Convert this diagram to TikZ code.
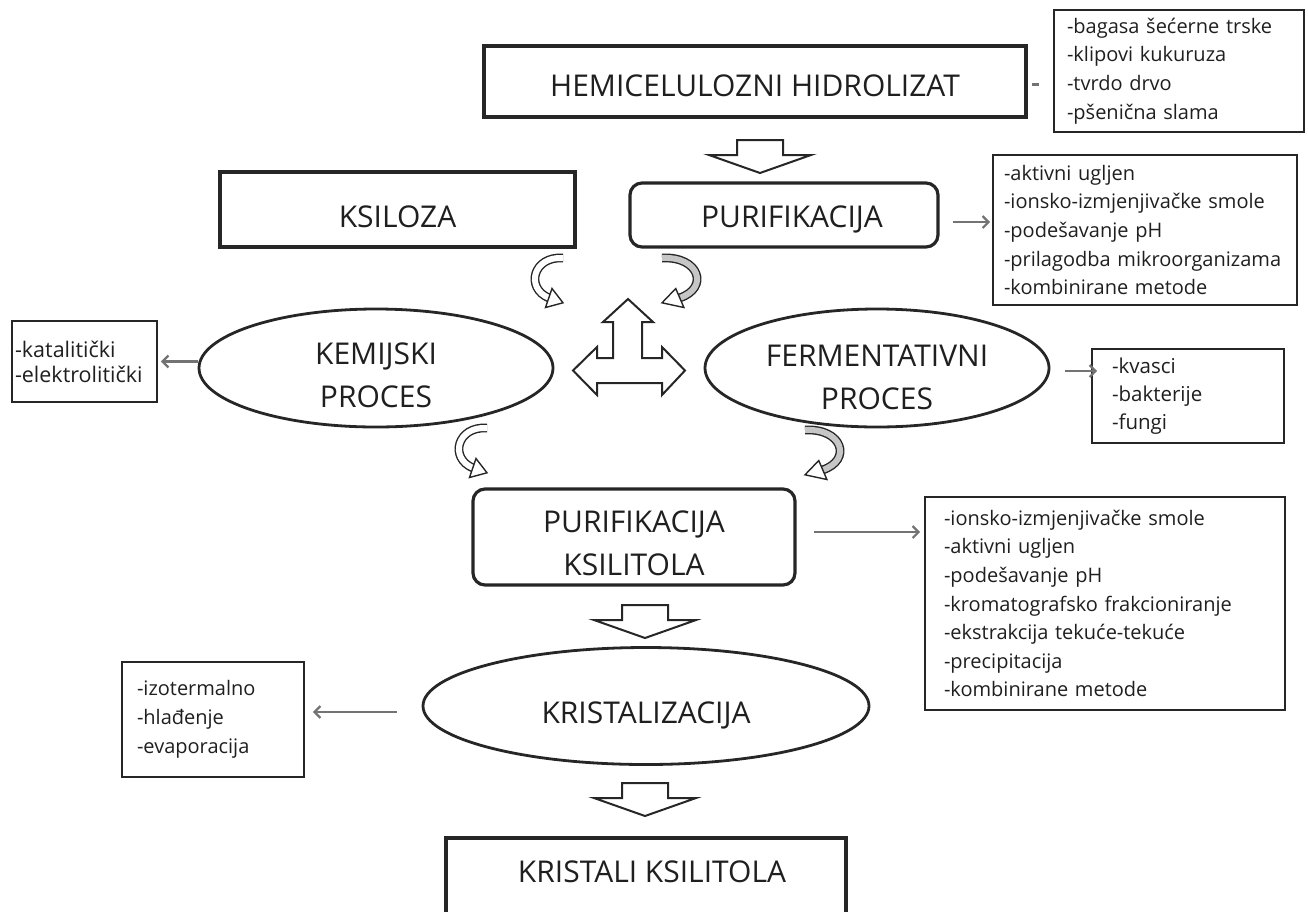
\documentclass[tikz,border=0pt]{standalone}
\usepackage{fontspec}
\setmainfont{Open Sans}
\usetikzlibrary{shapes.geometric, arrows.meta}

\begin{document}
\begin{tikzpicture}
[x=1pt, y=-1pt, >={Straight Barb[length=6pt, width=12pt]},
                    lbl/.style={font=\fontsize{30}{43.5}\selectfont, text=black!88},
                    mainbox/.style={lbl, draw=black!85, line width=3.2pt, inner sep=0pt, text depth=0pt},
                    roundbox/.style={mainbox, rounded corners=12pt, align=center},
                    oval/.style={lbl, ellipse, draw=black!85, line width=2.8pt, inner sep=0pt, text depth=0pt, align=center},
                    listbox/.style={draw=black!85, line width=1.8pt, align=left, inner ysep=0pt,
                                    font=\fontsize{20}{28.6}\selectfont, text=black!88},
                    grayline/.style={draw=black!55, line width=2.2pt},
                    grayarrow/.style={->, grayline},
                    blockarrow/.style={draw=black!85, line width=2pt, fill=white, line join=miter},
                    ribbon/.style={draw=black!85, line width=1.4pt, double=white, double distance=6pt},
                    curlhead/.style={draw=black!85, line width=1.4pt, fill=white},
                    curl/.pic={
                      \draw[ribbon] (0,0) .. controls (-30,-2) and (-38,30) .. (-14,40);
                      \draw[curlhead] (-11,30.5) -- (0,44.8) -- (-17.5,49.5) -- cycle;
                    },
                    blockdown/.pic={
                      \draw[blockarrow] (-23,0) -- (23,0) -- (23,15) -- (51,15) -- (0,33) -- (-51,15) -- (-23,15) -- cycle;
                    }]

\clip (0,0) rectangle (1308,911);

% main steps
\node[mainbox, minimum width=542pt, minimum height=71pt, text height=30.4pt] (hemi) at (755,81.5) {HEMICELULOZNI HIDROLIZAT\hspace{46pt}};
\node[mainbox, minimum width=355pt, minimum height=75pt, text height=36.4pt] (ksil) at (397.5,209.5) {KSILOZA};
\node[roundbox, minimum width=308pt, minimum height=64pt, text height=25.4pt] (puri) at (784,215) {\hspace{16pt}PURIFIKACIJA};
\node[oval, minimum width=354pt, minimum height=118pt, text height=79.4pt] (kem) at (376,368) {KEMIJSKI\\PROCES};
\node[oval, minimum width=344pt, minimum height=118pt, text height=83.4pt, text depth=-6pt] (ferm) at (877,368) {FERMENTATIVNI\\PROCES};
\node[roundbox, minimum width=322pt, minimum height=96pt, text height=77.4pt] (pk) at (634,537) {PURIFIKACIJA\\KSILITOLA};
\node[oval, minimum width=446pt, minimum height=117pt, text height=35.4pt] (kris) at (646,706) {KRISTALIZACIJA};
\node[mainbox, minimum width=400pt, minimum height=80pt, text height=9.4pt] (krist) at (646,878) {\hspace{12pt}KRISTALI KSILITOLA};

% lists
\node[listbox, text width=224pt, inner xsep=13pt, minimum height=122pt] (hemilist) at (1179,71)
	{-bagasa šećerne trske\\-klipovi kukuruza\\-tvrdo drvo\\-pšenična slama};
\node[listbox, text width=282pt, inner xsep=11pt, minimum height=150pt] (purilist) at (1145,230)
	{-aktivni ugljen\\-ionsko-izmjenjivačke smole\\-podešavanje pH\\-prilagodba mikroorganizama\\-kombinirane metode};
\node[listbox, text width=139pt, inner xsep=3pt, minimum height=81pt, font=\fontsize{21.5}{25}\selectfont] (katlist) at (84.5,361.5)
	{-katalitički\\-elektrolitički};
\node[listbox, text width=152pt, inner xsep=20pt, minimum height=94pt, font=\fontsize{20.5}{28}\selectfont] (kvlist) at (1188,396)
	{-kvasci\\-bakterije\\-fungi};
\node[listbox, text width=322pt, inner xsep=19pt, minimum height=213pt] (pklist) at (1105,603.5)
	{-ionsko-izmjenjivačke smole\\-aktivni ugljen\\-podešavanje pH\\-kromatografsko frakcioniranje\\-ekstrakcija tekuće-tekuće\\-precipitacija\\-kombinirane metode};
\node[listbox, text width=152pt, inner xsep=15pt, minimum height=115pt, font=\fontsize{20}{29}\selectfont] (izolist) at (213,719.5)
	{-izotermalno\\-hlađenje\\-evaporacija};

% gray links to the lists
\draw[grayline, shorten <=4pt, shorten >=14pt] ([yshift=-3pt]hemi.east) -- ([yshift=-3pt]hemi.east -| hemilist.west);
\draw[grayarrow, shorten <=13pt, shorten >=2pt] ([yshift=-7pt]puri.east) -- ([yshift=-7pt]puri.east -| purilist.west);
\draw[grayarrow, shorten >=3pt] (kem.west |- katlist.east) -- (katlist.east);
\draw[grayarrow, shorten <=15pt, shorten >=-6pt] ([yshift=-3pt]ferm.east) -- ([yshift=-3pt]ferm.east -| kvlist.west);
\draw[grayarrow, shorten <=17pt, shorten >=4pt] ([yshift=5pt]pk.east) -- ([yshift=5pt]pk.east -| pklist.west);
\draw[grayarrow, shorten <=25pt, shorten >=8pt] ([yshift=-6pt]kris.west) -- ([yshift=-6pt]kris.west -| izolist.east);

% block arrows
\pic at (760,140) {blockdown};
\pic at (645,605) {blockdown};
\pic at (645,783) {blockdown};
\pic at (563,258) {curl};
\pic[xscale=-1.25, ribbon/.append style={double=gray!45}] at (662,258) {curl};
\pic at (487,428) {curl};
\pic[xscale=-1.25, ribbon/.append style={double=gray!45}] at (805,430) {curl};
\draw[blockarrow] (628,299) -- (653,322) -- (642,322) -- (642,358) -- (662,358) -- (662,347) -- (685,370.5)
	-- (662,395) -- (662,383) -- (597,383) -- (597,395) -- (573,370.5) -- (597,347) -- (597,358)
	-- (613,358) -- (613,322) -- (603,322) -- cycle;
\end{tikzpicture}
\end{document}
